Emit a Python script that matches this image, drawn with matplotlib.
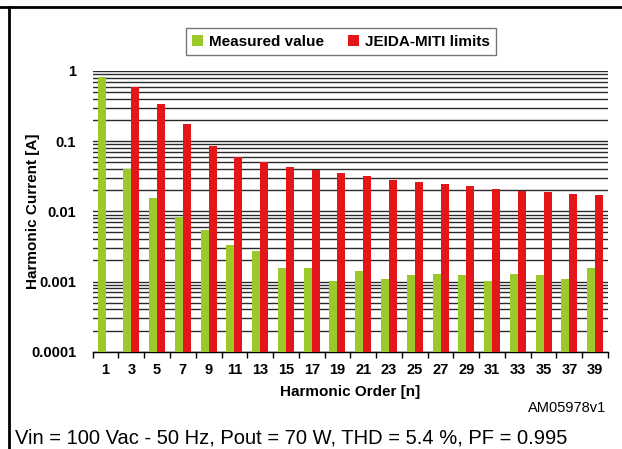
import numpy as np
import matplotlib.pyplot as plt
from matplotlib.ticker import LogLocator, NullFormatter, FixedLocator

# harmonic orders and measured / limit currents [A]
orders = [1, 3, 5, 7, 9, 11, 13, 15, 17, 19, 21, 23, 25, 27, 29, 31, 33, 35, 37, 39]
measured = [0.82, 0.040, 0.0153, 0.0082, 0.0055, 0.0033, 0.0027, 0.00155, 0.00155, 0.00103,
            0.00139, 0.0011, 0.00122, 0.0013, 0.00122, 0.00103, 0.0013, 0.00122, 0.0011, 0.00155]
limits = [np.nan, 0.59, 0.338, 0.175, 0.085, 0.059, 0.050, 0.0425, 0.0385, 0.0349,
          0.0316, 0.0277, 0.026, 0.0243, 0.0228, 0.0206, 0.0193, 0.0187, 0.0175, 0.0169]
ytick_vals = [0.0001, 0.001, 0.01, 0.1, 1]
ytick_labels = ['0.0001', '0.001', '0.01', '0.1', '1']

plt.rcParams['font.family'] = ['Liberation Sans', 'DejaVu Sans']

fig = plt.figure(figsize=(6.22, 4.49), dpi=100)
ax = fig.add_axes([0.149, 0.2167, 0.8285, 0.6253])

x = np.arange(len(orders))
w = 0.31
ax.bar(x - w / 2, measured, w, color='#9BC92B', label='Measured value', zorder=3)
ax.bar(x + w / 2, limits, w, color='#E3171A', label='JEIDA-MITI limits', zorder=3)

ax.set_yscale('log')
ax.set_ylim(0.0001, 1)
ax.set_xlim(-0.5, len(orders) - 0.5)

ax.yaxis.set_major_locator(FixedLocator(ytick_vals))
ax.set_yticklabels(ytick_labels, fontsize=10.5, fontweight='bold')
ax.yaxis.set_minor_locator(LogLocator(base=10, subs=np.arange(2, 10)))
ax.yaxis.set_minor_formatter(NullFormatter())
ax.tick_params(axis='y', which='both', length=0, pad=12)
ax.grid(axis='y', which='both', color='#2a2a2a', linewidth=1.0, zorder=0)

# category labels at centres, tick marks at the boundaries
ax.set_xticks(np.arange(len(orders) + 1) - 0.5)
ax.set_xticklabels([])
ax.tick_params(axis='x', which='major', length=4, width=1, direction='out')
ax.set_xticks(x, minor=True)
ax.set_xticklabels([str(o) for o in orders], minor=True, fontsize=10.5, fontweight='bold')
ax.tick_params(axis='x', which='minor', length=0, pad=8)

for s in ['left', 'right', 'top']:
    ax.spines[s].set_visible(False)
ax.spines['bottom'].set_linewidth(1)

ax.set_ylabel('Harmonic Current [A]', fontsize=11, fontweight='bold')
ax.yaxis.set_label_coords(-0.103, 0.5)
ax.set_xlabel('Harmonic Order [n]', fontsize=11, fontweight='bold')
ax.xaxis.set_label_coords(0.5, -0.12)

leg = ax.legend(loc='center', bbox_to_anchor=(341 / 622, 1 - 41.5 / 449),
                bbox_transform=fig.transFigure, ncol=2,
                prop={'weight': 'bold', 'size': 11}, frameon=True, fancybox=False,
                handlelength=0.7, handleheight=0.7, handletextpad=0.4, columnspacing=1.6,
                borderpad=0.4, edgecolor='#555555')
leg.get_frame().set_linewidth(1)

fig.text(606 / 622, 1 - 408 / 449, 'AM05978v1', ha='right', va='center', fontsize=10.5)
fig.text(15 / 622, 1 - 438 / 449, 'Vin = 100 Vac - 50 Hz, Pout = 70 W, THD = 5.4 %, PF = 0.995',
         ha='left', va='center', fontsize=14.5)

# outer frame lines (top and left)
fig.add_artist(plt.Line2D([0, 1], [1 - 6.5 / 449] * 2, transform=fig.transFigure, color='black', lw=2))
fig.add_artist(plt.Line2D([8.5 / 622] * 2, [0, 1 - 6.5 / 449], transform=fig.transFigure, color='black', lw=2))

fig.savefig('out.png', dpi=100)
